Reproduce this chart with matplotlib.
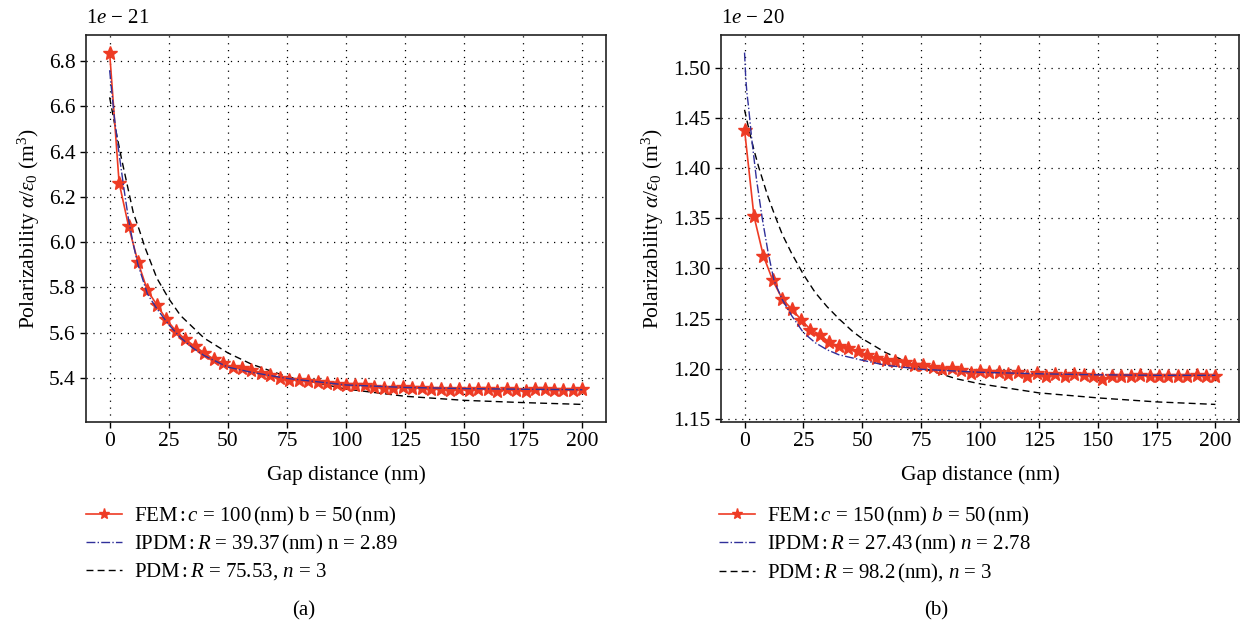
import numpy as np
import matplotlib
matplotlib.use("Agg")
import matplotlib.pyplot as plt

plt.rcParams["font.family"] = ["Liberation Serif", "DejaVu Serif"]
plt.rcParams["mathtext.fontset"] = "custom"
plt.rcParams["mathtext.rm"] = "Liberation Serif"
plt.rcParams["mathtext.it"] = "Liberation Serif:italic"
plt.rcParams["mathtext.fallback"] = "stix"

# ---- panel (a): values in units of 1e-21 m^3 ----
fem_x = np.arange(0, 201, 4)
fem_a = [6.838, 6.263, 6.071, 5.911, 5.786, 5.722, 5.658, 5.607, 5.570, 5.539,
         5.510, 5.482, 5.465, 5.446, 5.443, 5.432, 5.422, 5.410, 5.400, 5.392,
         5.391, 5.384, 5.381, 5.378, 5.373, 5.370, 5.369, 5.366, 5.359, 5.356,
         5.356, 5.359, 5.356, 5.356, 5.348, 5.350, 5.346, 5.350, 5.345, 5.350,
         5.350, 5.341, 5.350, 5.345, 5.342, 5.348, 5.350, 5.345, 5.345, 5.345,
         5.348]
ipdm_a_x = [0, 2, 4, 6, 8, 10, 12, 16, 20, 25, 30, 35, 40, 50, 60, 75, 100, 125, 150, 175, 200]
ipdm_a = [6.76, 6.55, 6.39, 6.24, 6.10, 5.99, 5.90, 5.77, 5.705, 5.635, 5.577, 5.533,
          5.498, 5.447, 5.424, 5.397, 5.368, 5.357, 5.352, 5.349, 5.347]
pdm_a_x = [0, 2.5, 5, 7.5, 10, 12.5, 15, 20, 25, 30, 40, 50, 60, 75, 100, 125, 150, 175, 200]
pdm_a = [6.64, 6.50, 6.37, 6.25, 6.13, 6.055, 5.975, 5.84, 5.75, 5.675, 5.575, 5.51,
         5.46, 5.405, 5.35, 5.318, 5.30, 5.29, 5.282]

# ---- panel (b): values in units of 1e-20 m^3 ----
fem_b = [1.438, 1.352, 1.3125, 1.288, 1.2696, 1.2596, 1.249, 1.239, 1.234, 1.2264,
         1.2224, 1.2208, 1.2174, 1.2141, 1.2108, 1.2085, 1.2075, 1.2065, 1.2042, 1.2042,
         1.2015, 1.2002, 1.2009, 1.1992, 1.1959, 1.1982, 1.1965, 1.1965, 1.1952, 1.1965,
         1.1932, 1.1959, 1.1932, 1.1952, 1.1932, 1.1950, 1.1942, 1.1926, 1.1900, 1.1926,
         1.1932, 1.1932, 1.1942, 1.1926, 1.1926, 1.1926, 1.1932, 1.1932, 1.1942, 1.1926,
         1.1926]
ipdm_b_x = [0, 0.5, 1, 1.7, 3, 5, 7.5, 10, 12.5, 16, 20, 25, 30, 35, 40, 50, 60, 75,
            100, 125, 150, 175, 200]
ipdm_b = [1.515, 1.490, 1.475, 1.461, 1.430, 1.390, 1.350, 1.316, 1.288, 1.269, 1.253,
          1.236, 1.226, 1.219, 1.214, 1.2085, 1.2035, 1.1995, 1.1965, 1.195, 1.194,
          1.1935, 1.1935]
pdm_b_x = [0, 2, 4, 6, 8, 10, 13, 16, 20, 25, 30, 35, 40, 46, 50, 60, 75, 90, 100,
           125, 150, 175, 200]
pdm_b = [1.458, 1.437, 1.418, 1.401, 1.386, 1.371, 1.352, 1.334, 1.315, 1.294, 1.276,
         1.262, 1.250, 1.237, 1.230, 1.216, 1.201, 1.190, 1.185, 1.176, 1.171, 1.167,
         1.1645]

panels = [
    dict(fem=fem_a, ix=ipdm_a_x, iy=ipdm_a, px=pdm_a_x, py=pdm_a, exp="21",
         yticks=np.arange(5.4, 6.81, 0.2), fmt="%.1f",
         labels=[r"FEM$\,$:$\,c$ = 100$\,$(nm) b = 50$\,$(nm)",
                 r"IPDM$\,$:$\,R$ = 39.37$\,$(nm) n = 2.89",
                 r"PDM$\,$:$\,R$ = 75.53, $n$ = 3"],
         caption="(a)"),
    dict(fem=fem_b, ix=ipdm_b_x, iy=ipdm_b, px=pdm_b_x, py=pdm_b, exp="20",
         yticks=np.arange(1.15, 1.501, 0.05), fmt="%.2f",
         labels=[r"FEM$\,$:$\,c$ = 150$\,$(nm) $b$ = 50$\,$(nm)",
                 r"IPDM$\,$:$\,R$ = 27.43$\,$(nm) $n$ = 2.78",
                 r"PDM$\,$:$\,R$ = 98.2$\,$(nm), $n$ = 3"],
         caption="(b)"),
]

W, H = 1245, 625
fig = plt.figure(figsize=(W / 100, H / 100), dpi=100)
boxes = [(86, 606), (721, 1239)]
top_px, bot_px = 35, 422
red = "#ee3b24"
blue = "#30309a"

for (l, r), p, cap_x, leg_x in zip(boxes, panels, [304, 936], [86, 719]):
    ax = fig.add_axes([l / W, 1 - bot_px / H, (r - l) / W, (bot_px - top_px) / H])
    ax.plot(fem_x, p["fem"], color=red, lw=1.2, marker="*", ms=10,
            mec=red, mfc=red, label=p["labels"][0], zorder=3)
    ax.plot(p["ix"], p["iy"], color=blue, lw=1.0, ls="-.", label=p["labels"][1], zorder=4)
    ax.plot(p["px"], p["py"], color="black", lw=1.0, ls=(0, (5, 3)), label=p["labels"][2], zorder=2)
    ax.set_xlim(-10, 210)
    ax.set_xticks(np.arange(0, 201, 25))
    ax.set_yticks(p["yticks"])
    ax.yaxis.set_major_formatter(matplotlib.ticker.FormatStrFormatter(p["fmt"]))
    ax.grid(True, color="black", ls=(0, (1, 4.5)), lw=0.9)
    ax.tick_params(direction="out", length=4, labelsize=15.5, width=1)
    for s in ax.spines.values():
        s.set_color("#222222")
        s.set_linewidth(1.2)
    ax.set_xlabel("Gap distance (nm)", fontsize=15.5, labelpad=10)
    ax.set_ylabel(r"Polarizability $\alpha/\varepsilon_0$ (m$^3$)", fontsize=15.5, labelpad=5)
    ax.text(0, 1.018, r"1$e$ $-$ " + p["exp"], transform=ax.transAxes,
            fontsize=15, ha="left", va="bottom")
    ax.legend(loc="upper left", bbox_to_anchor=(leg_x / W, 1 - 505 / H),
              bbox_transform=fig.transFigure, frameon=False, fontsize=15,
              handlelength=1.75, handletextpad=0.55, labelspacing=0.25,
              borderpad=0, borderaxespad=0, markerscale=0.8)
    fig.text(cap_x / W, 1 - 611 / H, p["caption"], fontsize=15, ha="center", va="center")

fig.savefig("out.png", dpi=100)
